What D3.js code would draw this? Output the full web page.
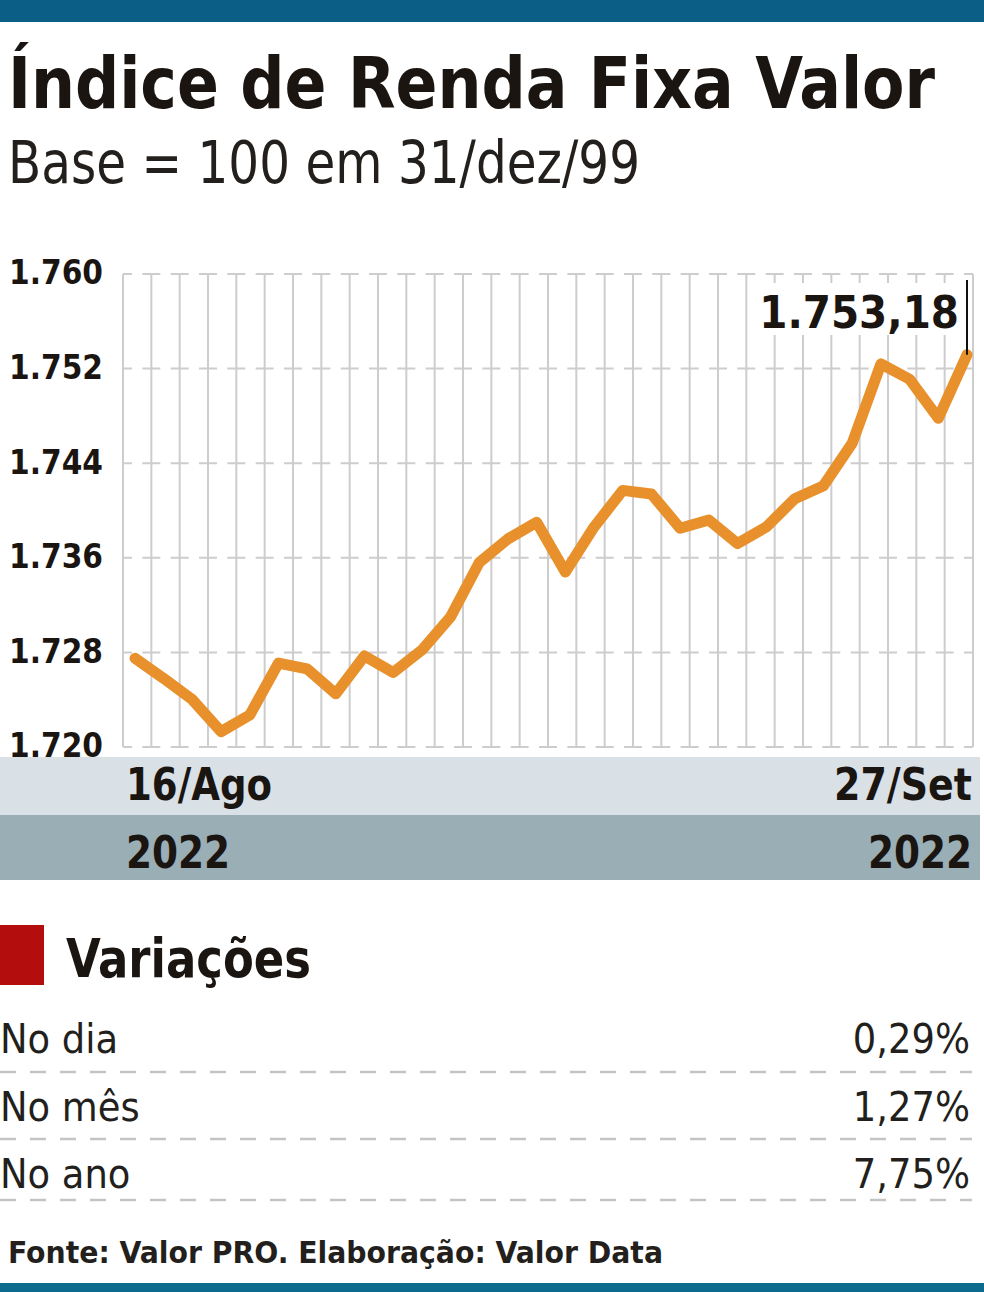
<!DOCTYPE html>
<html>
<head>
<meta charset="utf-8">
<script src="https://cdn.jsdelivr.net/npm/d3@7"></script>
<style>
  html, body { margin: 0; padding: 0; background: #fff; }
  svg { display: block; }
  .cond { font-family: "Liberation Sans Narrow", "DejaVu Sans Condensed", "Arial Narrow", sans-serif; }
  .dvc { font-family: "DejaVu Sans Condensed", "DejaVu Sans", sans-serif; font-stretch: condensed; }
</style>
</head>
<body>
<svg id="chart" width="984" height="1292"></svg>
<script>
// ---------------- data ----------------
const dates = ["16/08","17/08","18/08","19/08","22/08","23/08","24/08","25/08","26/08",
  "29/08","30/08","31/08","01/09","02/09","05/09","06/09","08/09","09/09",
  "12/09","13/09","14/09","15/09","16/09","19/09","20/09","21/09","22/09","23/09",
  "26/09","27/09"];
const values = [1727.5, 1725.8, 1724.0, 1721.3, 1722.7, 1727.1, 1726.6, 1724.5, 1727.7,
  1726.3, 1728.2, 1731.0, 1735.6, 1737.6, 1739.0, 1734.8, 1738.6, 1741.7,
  1741.4, 1738.5, 1739.2, 1737.2, 1738.6, 1741.0, 1742.1, 1745.7, 1752.4, 1751.1,
  1747.8, 1753.18];
const yTicks = [1720, 1728, 1736, 1744, 1752, 1760];
const xLabelsTop = ["16/Ago", "27/Set"];
const xLabelsBottom = ["2022", "2022"];
const variationLabels = ["No dia", "No mês", "No ano"];
const variationValues = ["0,29%", "1,27%", "7,75%"];
const title = "Índice de Renda Fixa Valor";
const subtitle = "Base = 100 em 31/dez/99";
const sectionTitle = "Variações";
const source = "Fonte: Valor PRO. Elaboração: Valor Data";
const gridColumns = 30;

// ---------------- setup ----------------
const svg = d3.select("#chart");
const br = d3.formatLocale({decimal: ",", thousands: ".", grouping: [3], currency: ["R$", ""]});
const fmtTick = br.format(",.0f");
const fmtLast = br.format(",.2f");
const ink = "#1b1512";

const plot = {left: 123, right: 973, top: 274, bottom: 747};
const x = d3.scalePoint().domain(dates).range([135, 967]);
const y = d3.scaleLinear().domain([1720, 1760]).range([plot.bottom, plot.top]);
const gx = d3.scaleLinear().domain([0, gridColumns]).range([plot.left, plot.right]);

// top & bottom bars
svg.append("rect").attr("x", 0).attr("y", 0).attr("width", 984).attr("height", 22).attr("fill", "#0b5e86");
svg.append("rect").attr("x", 0).attr("y", 1283).attr("width", 984).attr("height", 9).attr("fill", "#0c6a8e");

// title
svg.append("text").attr("class", "cond").attr("x", 8).attr("y", 108)
  .attr("font-size", 72).attr("font-weight", 700).attr("fill", ink)
  .attr("textLength", 927).attr("lengthAdjust", "spacingAndGlyphs").text(title);
svg.append("text").attr("class", "cond").attr("x", 8).attr("y", 183)
  .attr("font-size", 58).attr("font-weight", 300).attr("fill", "#231f1c")
  .attr("textLength", 632).attr("lengthAdjust", "spacingAndGlyphs").text(subtitle);

// ---------------- grid ----------------
const grid = svg.append("g");
grid.selectAll("line.v").data(d3.range(gridColumns + 1)).join("line")
  .attr("x1", d => gx(d)).attr("x2", d => gx(d))
  .attr("y1", plot.top).attr("y2", plot.bottom)
  .attr("stroke", "#cdcdcd").attr("stroke-width", 2);
const step = gx(1) - gx(0);
const half = 9;
grid.selectAll("line.h").data(yTicks).join("line")
  .attr("x1", plot.left).attr("x2", plot.right)
  .attr("y1", d => y(d)).attr("y2", d => y(d))
  .attr("stroke", "#cdcdcd").attr("stroke-width", 2)
  .attr("stroke-dasharray", `${half} ${step - 2 * half} ${half} 0`);

// y axis labels
const yAxis = svg.append("g").attr("transform", `translate(${plot.left},0)`)
  .call(d3.axisLeft(y).tickValues(yTicks).tickFormat(fmtTick).tickSize(0).tickPadding(20));
yAxis.select(".domain").remove();
yAxis.selectAll("text").attr("class", "dvc").attr("font-size", 33).attr("font-weight", 700)
  .attr("fill", ink).attr("dy", "0.3em").attr("font-family", null);

// ---------------- line ----------------
const line = d3.line().x((d, i) => x(dates[i])).y(d => y(d));
svg.append("path").datum(values).attr("d", line)
  .attr("fill", "none").attr("stroke", "#e8912c").attr("stroke-width", 11)
  .attr("stroke-linejoin", "round").attr("stroke-linecap", "round");

// annotation
const lastX = x(dates[dates.length - 1]);
const lastY = y(values[values.length - 1]);
svg.append("rect").attr("x", lastX - 217).attr("y", plot.top + 9).attr("width", 212).attr("height", 52).attr("fill", "#fff");
svg.append("text").attr("class", "dvc").attr("x", lastX - 8).attr("y", plot.top + 54)
  .attr("text-anchor", "end").attr("font-size", 45).attr("font-weight", 700).attr("fill", ink)
  .text(fmtLast(values[values.length - 1]));
svg.append("line").attr("x1", lastX).attr("x2", lastX).attr("y1", plot.top + 6).attr("y2", lastY)
  .attr("stroke", "#111").attr("stroke-width", 2);

// ---------------- x bands ----------------
svg.append("rect").attr("x", 0).attr("y", 757).attr("width", 980).attr("height", 58).attr("fill", "#d9e1e7");
svg.append("rect").attr("x", 0).attr("y", 815).attr("width", 980).attr("height", 65).attr("fill", "#9aaeb6");
const xEnds = [x(dates[0]) - 9, x(dates[dates.length - 1]) + 5];
[0, 1].forEach(i => {
  svg.append("text").attr("class", "cond").attr("x", xEnds[i]).attr("y", 800)
    .attr("text-anchor", i === 0 ? "start" : "end")
    .attr("font-size", 44).attr("font-weight", 700).attr("fill", ink)
    .attr("textLength", i === 0 ? 146 : 138).attr("lengthAdjust", "spacingAndGlyphs")
    .text(xLabelsTop[i]);
  svg.append("text").attr("class", "cond").attr("x", xEnds[i]).attr("y", 868)
    .attr("text-anchor", i === 0 ? "start" : "end")
    .attr("font-size", 44).attr("font-weight", 700).attr("fill", ink)
    .attr("textLength", 104).attr("lengthAdjust", "spacingAndGlyphs")
    .text(xLabelsBottom[i]);
});

// ---------------- variations ----------------
svg.append("rect").attr("x", 0).attr("y", 925).attr("width", 44).attr("height", 60).attr("fill", "#b30d0d");
svg.append("text").attr("class", "cond").attr("x", 66).attr("y", 977)
  .attr("font-size", 54).attr("font-weight", 700).attr("fill", ink)
  .attr("textLength", 245).attr("lengthAdjust", "spacingAndGlyphs").text(sectionTitle);

const rowBase = [1053, 1121, 1188];
const rowSep = [1072, 1139, 1200];
variationLabels.forEach((lab, i) => {
  svg.append("text").attr("class", "dvc").attr("x", 0).attr("y", rowBase[i])
    .attr("font-size", 41).attr("font-weight", 400).attr("fill", "#231f1c").text(lab);
  svg.append("text").attr("class", "dvc").attr("x", 970).attr("y", rowBase[i])
    .attr("text-anchor", "end")
    .attr("font-size", 41).attr("font-weight", 400).attr("fill", "#231f1c").text(variationValues[i]);
  svg.append("line").attr("x1", 0).attr("x2", 972).attr("y1", rowSep[i]).attr("y2", rowSep[i])
    .attr("stroke", "#c4c4c4").attr("stroke-width", 2.5).attr("stroke-dasharray", "16 14");
});

// source
svg.append("text").attr("class", "cond").attr("x", 8).attr("y", 1263)
  .attr("font-size", 31).attr("font-weight", 700).attr("fill", "#231f1c")
  .attr("textLength", 655).attr("lengthAdjust", "spacingAndGlyphs").text(source);
</script>
</body>
</html>
